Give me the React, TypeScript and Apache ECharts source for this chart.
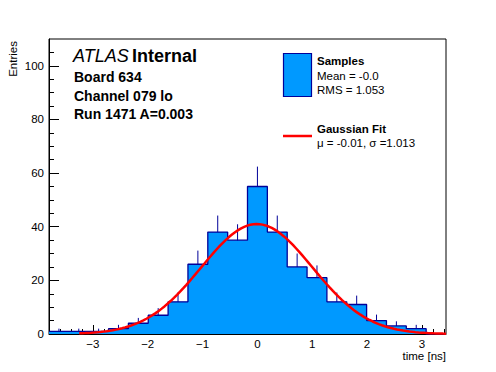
import React, { useEffect, useRef } from "react";
import * as echarts from "echarts";

// Histogram binning and contents
const binLow = -3.8;
const binWidth = 0.362;
const counts = [1, 1, 1, 2, 4, 7, 12, 26, 38, 35, 55, 38, 25, 21, 12, 11, 5, 3, 2, 0];

// Gaussian fit parameters
const fitMu = -0.01;
const fitSigma = 1.013;
const fitAmp = 41;
const fitLow = -3.25;

// Axis ticks
const xMajor = [-3, -2, -1, 0, 1, 2, 3];
const yMajor = [0, 20, 40, 60, 80, 100];

// Texts
const infoLines = ["Board 634", "Channel 079 lo", "Run 1471 A=0.003"];
const legendHist = ["Samples", "Mean = -0.0", "RMS = 1.053"];
const legendFit = ["Gaussian Fit", "\u03bc = -0.01, \u03c3 =1.013"];

const FONT = "Liberation Sans, Arial, Helvetica, sans-serif";
const FILL = "#0099ff";
const EDGE = "#000099";

export default function App() {
  const ref = useRef<HTMLDivElement>(null);
  useEffect(() => {
    if (!ref.current) return;
    const chart = echarts.init(ref.current, null, { renderer: "svg" });
    const xMin = binLow;
    const xMax = binLow + counts.length * binWidth;

    const histData: number[][] = counts.map((c, i) => [binLow + i * binWidth, c]);
    histData.push([xMax, counts[counts.length - 1]]);

    const errData = counts
      .map((c, i) => [binLow + (i + 0.5) * binWidth, c - Math.sqrt(c), c + Math.sqrt(c), c])
      .filter((d) => d[3] > 0);

    const fitData: number[][] = [];
    const nPts = 120;
    for (let k = 0; k <= nPts; k++) {
      const x = fitLow + ((xMax - fitLow) * k) / nPts;
      fitData.push([x, fitAmp * Math.exp(-0.5 * ((x - fitMu) / fitSigma) ** 2)]);
    }

    const xMinor: number[] = [];
    for (let v = -19; v <= 17; v++) xMinor.push(Math.round(v * 0.2 * 10) / 10);
    const yMinor: number[] = [];
    for (let v = 5; v < 110; v += 5) yMinor.push(v);

    const minus = (v: any) => String(v).replace("-", "\u2212");

    chart.setOption({
      animation: false,
      grid: {
        left: 49,
        top: 39,
        width: 397,
        height: 295,
        show: true,
        borderColor: "#000",
        borderWidth: 1,
        backgroundColor: "transparent",
      },
      xAxis: [
        {
          type: "value",
          min: xMin,
          max: xMax,
          position: "bottom",
          axisLine: { show: true, onZero: false, lineStyle: { color: "#000", width: 1 } },
          axisTick: { show: true, inside: true, length: 9, customValues: xMajor, lineStyle: { color: "#000" } },
          axisLabel: {
            show: true,
            customValues: xMajor,
            formatter: minus,
            color: "#000",
            fontFamily: FONT,
            fontSize: 11.5,
            margin: 4,
          },
          splitLine: { show: false },
        },
        {
          type: "value",
          min: xMin,
          max: xMax,
          position: "bottom",
          axisLine: { show: false, onZero: false },
          axisTick: { show: true, inside: true, length: 5, customValues: xMinor, lineStyle: { color: "#000" } },
          axisLabel: { show: false },
          splitLine: { show: false },
        },
      ],
      yAxis: [
        {
          type: "value",
          min: 0,
          max: 110,
          position: "left",
          axisLine: { show: true, onZero: false, lineStyle: { color: "#000", width: 1 } },
          axisTick: { show: true, inside: true, length: 10, customValues: yMajor, lineStyle: { color: "#000" } },
          axisLabel: {
            show: true,
            customValues: yMajor,
            color: "#000",
            fontFamily: FONT,
            fontSize: 11.5,
            margin: 5,
          },
          splitLine: { show: false },
        },
        {
          type: "value",
          min: 0,
          max: 110,
          position: "left",
          axisLine: { show: false, onZero: false },
          axisTick: { show: true, inside: true, length: 5, customValues: yMinor, lineStyle: { color: "#000" } },
          axisLabel: { show: false },
          splitLine: { show: false },
        },
      ],
      series: [
        {
          type: "custom",
          xAxisIndex: 0,
          yAxisIndex: 0,
          z: 1,
          data: errData,
          encode: { x: 0, y: [1, 2] },
          renderItem: (params: any, api: any) => {
            const p1 = api.coord([api.value(0), api.value(1)]);
            const p2 = api.coord([api.value(0), api.value(2)]);
            return {
              type: "line",
              shape: { x1: p1[0], y1: p1[1], x2: p2[0], y2: p2[1] },
              style: { stroke: EDGE, lineWidth: 1 },
            };
          },
        },
        {
          type: "line",
          xAxisIndex: 0,
          yAxisIndex: 0,
          z: 2,
          step: "end",
          data: histData,
          symbol: "none",
          lineStyle: { color: EDGE, width: 1.3 },
          areaStyle: { color: FILL, opacity: 1, origin: "start" },
        },
        {
          type: "line",
          xAxisIndex: 0,
          yAxisIndex: 0,
          z: 3,
          data: fitData,
          symbol: "none",
          smooth: false,
          lineStyle: { color: "#ff0000", width: 2.5 },
        },
      ],
      graphic: [
        {
          type: "text",
          x: 73,
          y: 56,
          style: {
            text: "{a|ATLAS} {b|Internal}",
            verticalAlign: "middle",
            rich: {
              a: { fontFamily: FONT, fontStyle: "italic", fontSize: 18, fill: "#000" },
              b: { fontFamily: FONT, fontWeight: "bold", fontSize: 18, fill: "#000" },
            },
          },
        },
        ...infoLines.map((t, i) => ({
          type: "text",
          x: 74,
          y: 77 + i * 18.7,
          style: { text: t, fontFamily: FONT, fontWeight: "bold", fontSize: 14, fill: "#000", verticalAlign: "middle" },
        })),
        {
          type: "rect",
          shape: { x: 283.5, y: 53.5, width: 28, height: 43 },
          style: { fill: FILL, stroke: EDGE, lineWidth: 1.2 },
        },
        ...legendHist.map((t, i) => ({
          type: "text",
          x: 317,
          y: 61 + i * 14.5,
          style: {
            text: t,
            fontFamily: FONT,
            fontWeight: i === 0 ? "bold" : "normal",
            fontSize: 11.5,
            fill: "#000",
            verticalAlign: "middle",
          },
        })),
        {
          type: "line",
          shape: { x1: 283, y1: 136, x2: 312, y2: 136 },
          style: { stroke: "#ff0000", lineWidth: 2.5 },
        },
        ...legendFit.map((t, i) => ({
          type: "text",
          x: 317,
          y: 128.5 + i * 14,
          style: {
            text: t,
            fontFamily: FONT,
            fontWeight: i === 0 ? "bold" : "normal",
            fontSize: 11.5,
            fill: "#000",
            verticalAlign: "middle",
          },
        })),
        {
          type: "text",
          x: 13,
          y: 41,
          rotation: Math.PI / 2,
          style: {
            text: "Entries",
            fontFamily: FONT,
            fontSize: 11.5,
            fill: "#000",
            align: "right",
            verticalAlign: "middle",
          },
        },
        {
          type: "text",
          x: 446,
          y: 356,
          style: {
            text: "time [ns]",
            fontFamily: FONT,
            fontSize: 11.5,
            fill: "#000",
            align: "right",
            verticalAlign: "middle",
          },
        },
      ],
    });
    return () => chart.dispose();
  }, []);
  return (
    <div
      ref={ref}
      style={{ position: "fixed", left: 0, top: 0, width: 496, height: 372, background: "#fff" }}
    />
  );
}
